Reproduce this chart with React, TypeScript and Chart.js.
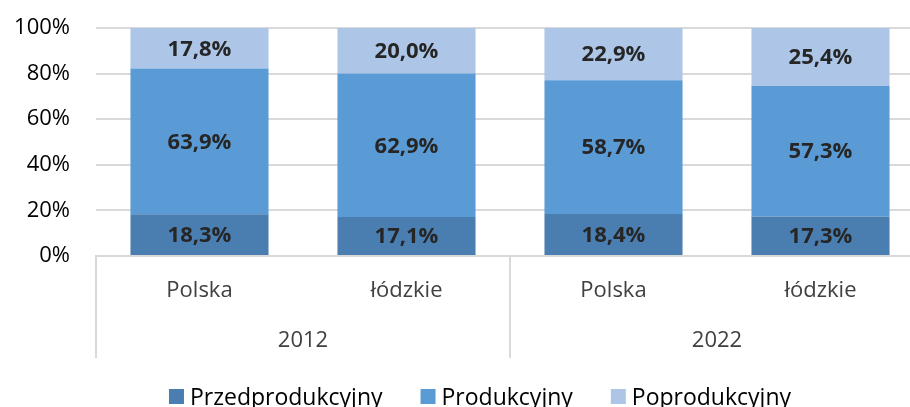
import React, { useEffect, useRef } from "react";
import { Chart, registerables } from "chart.js";

Chart.register(...registerables);

const categories = ["Polska", "łódzkie", "Polska", "łódzkie"];
const groups = ["2012", "2022"];
const groupSize = 2;
const seriesNames = ["Przedprodukcyjny", "Produkcyjny", "Poprodukcyjny"];
const przedprodukcyjny = [18.3, 17.1, 18.4, 17.3];
const produkcyjny = [63.9, 62.9, 58.7, 57.3];
const poprodukcyjny = [17.8, 20.0, 22.9, 25.4];
const seriesColors = ["#4a7eb1", "#5b9bd5", "#adc6e7"];
const yTickValues = [0, 20, 40, 60, 80, 100];

const FONT = "'Open Sans', 'Noto Sans', sans-serif";
const fmt = (v: number) => v.toFixed(1).replace(".", ",") + "%";

const segLabels = {
  id: "segLabels",
  afterDatasetsDraw(chart: any) {
    const ctx = chart.ctx;
    ctx.save();
    ctx.font = `bold 22px ${FONT}`;
    ctx.fillStyle = "#262626";
    ctx.textAlign = "center";
    ctx.textBaseline = "middle";
    chart.data.datasets.forEach((ds: any, di: number) => {
      const meta = chart.getDatasetMeta(di);
      meta.data.forEach((el: any, i: number) => {
        const p = el.getProps(["x", "y", "base"], true);
        ctx.fillText(fmt(ds.data[i]), p.x, (p.y + p.base) / 2 + 1);
      });
    });
    ctx.restore();
  },
};

const groupAxis = {
  id: "groupAxis",
  afterDraw(chart: any) {
    const { ctx, chartArea } = chart;
    const x = chart.scales.x;
    const half = (x.getPixelForValue(1) - x.getPixelForValue(0)) / 2;
    ctx.save();
    ctx.strokeStyle = "#d9d9d9";
    ctx.lineWidth = 2;
    for (let g = 0; g <= groups.length; g++) {
      const px = Math.round(x.getPixelForValue(g * groupSize) - half);
      ctx.beginPath();
      ctx.moveTo(px, chartArea.bottom);
      ctx.lineTo(px, chartArea.bottom + 102);
      ctx.stroke();
    }
    ctx.font = `22px ${FONT}`;
    ctx.fillStyle = "#404040";
    ctx.textAlign = "center";
    ctx.textBaseline = "middle";
    groups.forEach((gl, g) => {
      const a = x.getPixelForValue(g * groupSize);
      const b = x.getPixelForValue(g * groupSize + groupSize - 1);
      ctx.fillText(gl, (a + b) / 2, chartArea.bottom + 85);
    });

    // legend
    ctx.font = `23px ${FONT}`;
    ctx.textBaseline = "alphabetic";
    ctx.textAlign = "left";
    const box = 15;
    const gap = 6;
    const itemGap = 38;
    const widths = seriesNames.map((n) => box + gap + ctx.measureText(n).width);
    const total = widths.reduce((a, b) => a + b, 0) + itemGap * (seriesNames.length - 1);
    let cx = 480 - total / 2;
    const baseY = 404;
    seriesNames.forEach((n, i) => {
      ctx.fillStyle = seriesColors[i];
      ctx.fillRect(cx, baseY - box, box, box);
      ctx.fillStyle = "#000000";
      ctx.fillText(n, cx + box + gap, baseY + 1);
      cx += widths[i] + itemGap;
    });
    ctx.restore();
  },
};

export default function App() {
  const ref = useRef<HTMLCanvasElement>(null);
  useEffect(() => {
    if (!ref.current) return;
    const chart = new Chart(ref.current, {
      type: "bar",
      data: {
        labels: categories,
        datasets: [przedprodukcyjny, produkcyjny, poprodukcyjny].map((d, i) => ({
          label: seriesNames[i],
          data: d,
          backgroundColor: seriesColors[i],
          borderWidth: 0,
          barPercentage: 0.667,
          categoryPercentage: 1,
        })),
      },
      options: {
        responsive: false,
        animation: false,
        events: [],
        layout: { padding: { top: 28, right: 16, left: 0, bottom: 0 } },
        plugins: { legend: { display: false }, tooltip: { enabled: false } },
        scales: {
          x: {
            stacked: true,
            grid: { display: false, drawTicks: false },
            border: { display: true, color: "#d9d9d9", width: 2 },
            ticks: {
              font: { family: FONT, size: 22 },
              color: "#404040",
              padding: 22,
              maxRotation: 0,
              autoSkip: false,
            },
            afterFit: (s: any) => {
              s.height = 164;
              s.paddingLeft = 0;
              s.paddingRight = 0;
            },
          },
          y: {
            stacked: true,
            min: 0,
            max: 100,
            afterBuildTicks: (s: any) => {
              s.ticks = yTickValues.map((v) => ({ value: v }));
            },
            grid: { color: "#d9d9d9", lineWidth: 2, drawTicks: false },
            border: { display: false },
            ticks: {
              font: { family: FONT, size: 22 },
              color: "#000000",
              padding: 26,
              callback: (v: any) => v + "%",
            },
            afterFit: (s: any) => {
              s.width = 96;
              s.paddingTop = 0;
              s.paddingBottom = 0;
            },
          },
        },
      },
      plugins: [segLabels, groupAxis],
    });
    return () => chart.destroy();
  }, []);
  return (
    <div
      style={{
        position: "fixed",
        left: 0,
        top: 0,
        width: 910,
        height: 407,
        overflow: "hidden",
        background: "#ffffff",
      }}
    >
      <canvas ref={ref} width={940} height={420} style={{ display: "block" }} />
    </div>
  );
}
